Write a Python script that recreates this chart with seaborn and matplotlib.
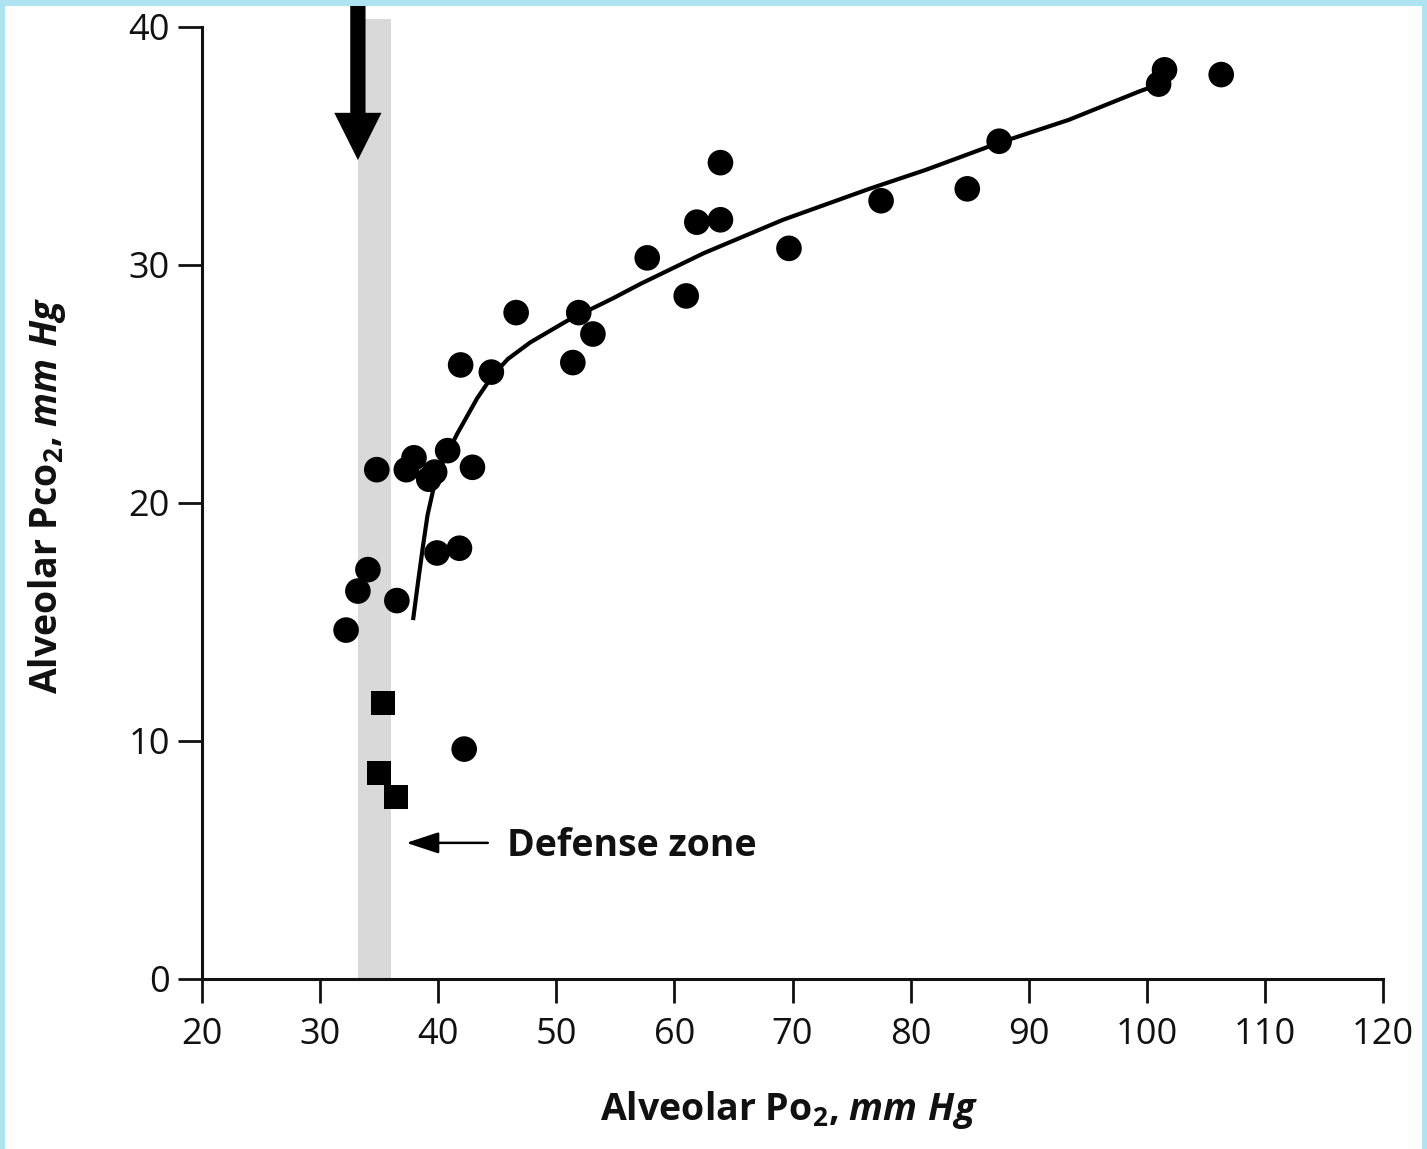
import matplotlib
matplotlib.use("Agg")
import matplotlib.pyplot as plt
import seaborn as sns
import pandas as pd
from matplotlib.patches import Rectangle

# ---------------- data ----------------
circle_po2 = [32.2, 33.2, 34.05, 34.8, 36.5, 37.3, 37.95, 39.2, 39.7, 39.9, 40.8,
              41.8, 41.9, 42.9, 42.2, 44.5, 46.6, 51.4, 51.9, 53.1, 57.7, 61.0,
              61.9, 63.9, 63.9, 69.7, 77.5, 84.8, 87.5, 101.0, 101.5, 106.3]
circle_pco2 = [14.66, 16.3, 17.2, 21.4, 15.9, 21.4, 21.9, 21.0, 21.3, 17.9, 22.2,
               18.1, 25.8, 21.5, 9.66, 25.5, 28.0, 25.9, 28.0, 27.1, 30.3, 28.7,
               31.8, 34.3, 31.9, 30.7, 32.7, 33.2, 35.2, 37.6, 38.2, 38.0]

square_po2 = [35.3, 35.0, 36.4]
square_pco2 = [11.6, 8.66, 7.65]

curve_po2 = [37.87, 38.3, 38.7, 39.1, 39.6, 40.3, 41.6, 43.3, 44.6, 45.9, 47.8, 50.9,
             54.8, 57.1, 62.5, 69.2, 76.5, 81.3, 87.3, 93.4, 99.4, 101.1]
curve_pco2 = [15.08, 16.7, 18.15, 19.5, 20.6, 21.6, 22.9, 24.4, 25.35, 26.05, 26.75, 27.65,
              28.6, 29.2, 30.5, 31.9, 33.2, 34.0, 35.1, 36.1, 37.3, 37.6]

x_ticks = [20, 30, 40, 50, 60, 70, 80, 90, 100, 110, 120]
y_ticks = [0, 10, 20, 30, 40]

zone_po2 = (33.2, 36.0)
zone_top = 40.34
annotation_text = "Defense zone"

# ---------------- style ----------------
sns.set_theme(style="white")
plt.rcParams['font.family'] = ['Open Sans', 'DejaVu Sans']
plt.rcParams['mathtext.fontset'] = 'custom'
plt.rcParams['mathtext.rm'] = 'Open Sans:bold'
plt.rcParams['mathtext.it'] = 'Open Sans:italic:bold'
plt.rcParams['mathtext.bf'] = 'Open Sans:bold'

W, H = 1427, 1149
fig = plt.figure(figsize=(W / 100, H / 100), dpi=100)
fig.patch.set_facecolor('white')
ax = fig.add_axes([202 / W, 1 - 979 / H, (1383 - 202) / W, (979 - 27) / H])
ax.set_facecolor('white')

circles = pd.DataFrame({"po2": circle_po2, "pco2": circle_pco2})
squares = pd.DataFrame({"po2": square_po2, "pco2": square_pco2})
curve = pd.DataFrame({"po2": curve_po2, "pco2": curve_pco2})

# grey defense zone band
ax.add_patch(Rectangle((zone_po2[0], 0), zone_po2[1] - zone_po2[0], zone_top,
                       facecolor='#d9d9d9', edgecolor='none', zorder=0, clip_on=False))

sns.lineplot(data=curve, x="po2", y="pco2", sort=False, estimator=None,
             color='black', lw=3.0, ax=ax, zorder=3,
             solid_joinstyle='round', solid_capstyle='butt')
sns.scatterplot(data=circles, x="po2", y="pco2", marker='o', s=340,
                color='black', edgecolor='none', ax=ax, zorder=4)
sns.scatterplot(data=squares, x="po2", y="pco2", marker='s', s=300,
                color='black', edgecolor='none', ax=ax, zorder=4)

ax.set_xlim(20, 120)
ax.set_ylim(0, 40)
ax.set_xticks(x_ticks)
ax.set_yticks(y_ticks)
ax.set_xlabel("")
ax.set_ylabel("")

for s in ['top', 'right']:
    ax.spines[s].set_visible(False)
for s in ['left', 'bottom']:
    ax.spines[s].set_color('#111111')
    ax.spines[s].set_linewidth(2.2)

ax.tick_params(axis='both', which='major', direction='out', length=17, width=2.0,
               color='#111111', labelsize=26, labelcolor='#111111',
               bottom=True, left=True)
ax.tick_params(axis='x', pad=10)
ax.tick_params(axis='y', pad=6)

# big downward arrow on top of the defense zone
ax.annotate("", xy=(33.2, 34.41), xytext=(33.2, 41.3), xycoords='data',
            textcoords='data', annotation_clip=False,
            arrowprops=dict(arrowstyle="simple,head_length=34,head_width=34,tail_width=11",
                            mutation_scale=1, color='black', shrinkA=0, shrinkB=0,
                            lw=0))

# Defense zone annotation
ax.annotate("", xy=(37.3, 5.72), xytext=(44.2, 5.72),
            arrowprops=dict(arrowstyle="-|>,head_length=1.0,head_width=0.33",
                            mutation_scale=20, color='black', lw=1.8,
                            shrinkA=0, shrinkB=0))
ax.text(45.8, 5.6, annotation_text, fontsize=27, fontweight='bold',
        color='#111111', ha='left', va='center')

# axis labels
fig.text(789 / W, 1 - 1110 / H, r"Alveolar P$\mathrm{o}_2$, $\mathit{mm\ Hg}$",
         fontsize=27, fontweight='bold', color='#111111', ha='center', va='center')
fig.text(47 / W, 1 - 495 / H, r"Alveolar P$\mathrm{co}_2$, $\mathit{mm\ Hg}$",
         fontsize=27, fontweight='bold', color='#111111', ha='center', va='center',
         rotation=90)

# light blue frame as in the reference
for (x0, y0, w, h) in [(0, 1 - 6 / H, 1, 6 / H), (0, 0, 5 / W, 1), (1 - 5 / W, 0, 5 / W, 1)]:
    fig.add_artist(Rectangle((x0, y0), w, h, transform=fig.transFigure,
                             facecolor='#aee4f2', edgecolor='none', zorder=10))

fig.savefig("out.png", dpi=100, facecolor='white')
